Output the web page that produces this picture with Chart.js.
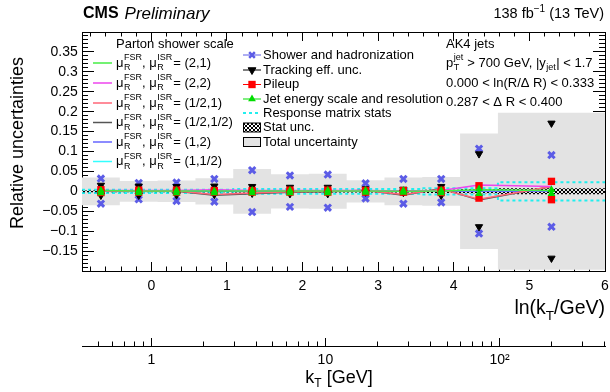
<!DOCTYPE html>
<html>
<head>
<meta charset="utf-8">
<script src="https://cdn.jsdelivr.net/npm/chart.js@4.4.0/dist/chart.umd.min.js"></script>
<style>
  body { margin: 0; background: #fff; }
</style>
</head>
<body>
<canvas id="chart" width="610" height="392"></canvas>
<script>
// bins in ln(kT/GeV)
const binEdges = [-0.916, -0.416, 0.084, 0.584, 1.084, 1.584, 2.084, 2.584, 3.084, 3.584, 4.084, 4.584, 6.0];
const binCenters = [-0.666, -0.166, 0.334, 0.834, 1.334, 1.834, 2.334, 2.834, 3.334, 3.834, 4.334, 5.292];

// uncertainty sources (up / down)
const showerUp   = [0.032, 0.021, 0.022, 0.031, 0.053, 0.040, 0.042, 0.020, 0.031, 0.031, 0.107, 0.091];
const showerDown = [-0.031, -0.020, -0.024, -0.026, -0.052, -0.039, -0.041, -0.018, -0.031, -0.028, -0.106, -0.089];
const trackUp    = [0.015, 0.013, 0.012, 0.013, 0.012, 0.010, 0.010, 0.006, 0.005, 0.012, 0.094, 0.171];
const trackDown  = [-0.010, -0.010, -0.009, -0.008, -0.005, -0.006, -0.006, -0.002, -0.003, -0.010, -0.089, -0.168];
const pileupUp   = [0.004, 0.003, 0.003, 0.002, 0.002, 0.003, 0.003, 0.002, 0.002, 0.003, 0.014, 0.025];
const pileupDown = [-0.003, -0.002, -0.002, -0.002, -0.002, -0.002, -0.002, -0.002, -0.002, -0.003, -0.017, -0.021];
const jesUp      = [0.002, 0.002, 0.002, 0.001, 0.002, 0.002, 0.002, 0.002, 0.002, 0.002, 0.006, 0.004];
const jesDown    = [-0.004, -0.004, -0.004, -0.004, -0.004, -0.004, -0.004, -0.003, -0.003, -0.004, -0.006, -0.006];
const respStat   = [0.004, 0.004, 0.004, 0.004, 0.006, 0.006, 0.006, 0.006, 0.006, 0.008, 0.008, 0.023];
const statUnc    = [0.002, 0.002, 0.002, 0.002, 0.003, 0.003, 0.003, 0.003, 0.003, 0.004, 0.005, 0.0075];
const totalUnc   = [0.035, 0.026, 0.027, 0.033, 0.056, 0.043, 0.044, 0.028, 0.035, 0.036, 0.145, 0.197];

// parton shower scale variations
const psLabels = ['(2,1)', '(2,2)', '(1/2,1)', '(1/2,1/2)', '(1,2)', '(1,1/2)'];
const psColors = ['#44ee44', '#ee44ee', '#ff6677', '#555555', '#6666ff', '#33ffff'];
const ps21 = [0.002, 0.001, 0.001, 0.001, 0.001, 0.001, 0.001, 0.001, 0.000, 0.001, 0.004, 0.002];
const ps22 = [0.002, 0.002, 0.002, 0.004, 0.002, 0.002, 0.002, 0.002, 0.001, 0.002, 0.016, 0.012];
const psH1 = [0.001, 0.000, 0.001, -0.008, -0.004, -0.001, 0.000, 0.002, -0.008, 0.005, -0.020, 0.012];
const psHH = [0.000, 0.000, 0.000, -0.010, -0.006, -0.002, -0.001, 0.003, -0.010, 0.007, -0.022, 0.012];
const ps12 = [0.000, 0.000, 0.000, 0.000, 0.000, 0.000, 0.000, 0.000, 0.000, 0.000, 0.000, 0.000];
const ps1H = [0.000, -0.001, 0.000, 0.000, 0.000, 0.000, 0.000, 0.000, 0.000, 0.000, 0.001, 0.001];
const psValues = [ps21, ps22, psH1, psHH, ps12, ps1H];

// tick labels
const lnTicks = [0, 1, 2, 3, 4, 5, 6];
const kTTicks = [1, 10, 100];
const kTMinorTicks = [0.5, 0.6, 0.7, 0.8, 0.9, 2, 3, 4, 5, 6, 7, 8, 9, 20, 30, 40, 50, 60, 70, 80, 90, 200, 300, 400];
const yTicks = [-0.15, -0.1, -0.05, 0, 0.05, 0.1, 0.15, 0.2, 0.25, 0.3, 0.35];

const X_MIN = -0.916, X_MAX = 6, Y_MIN = -0.2, Y_MAX = 0.4;
const FONT = "'Liberation Sans', Arial, Helvetica, sans-serif";
Chart.defaults.font.family = FONT;
Chart.defaults.color = '#000';

const C_SHOWER = '#5c5ce6', C_PILEUP = '#ff0000', C_JES = '#00dd00', C_RESP = '#22eeee', C_TOTAL = '#e3e3e3';

function minorSteps(lo, hi, step) {
    const out = [];
    for (let k = Math.ceil(lo / step - 1e-9); k * step <= hi + 1e-9; k++) out.push(+(k * step).toFixed(4));
    return out;
}

function hatchPattern() {
    const c = document.createElement('canvas');
    c.width = 4; c.height = 4;
    const g = c.getContext('2d');
    g.strokeStyle = '#000';
    g.lineWidth = 1;
    g.beginPath();
    g.moveTo(0, 4); g.lineTo(4, 0);
    g.moveTo(0, 0); g.lineTo(4, 4);
    g.stroke();
    return g.createPattern(c, 'repeat');
}
const HATCH = hatchPattern();

const neg = a => a.map(v => -v);
const pts = (ys) => binCenters.map((x, i) => ({ x: x, y: ys[i] }));
const steps = (vals) => binEdges.map((e, i) => ({ x: e, y: vals[Math.min(i, vals.length - 1)] }));

const setTicks = vals => s => { s.ticks = vals.map(v => ({ value: v })); };

// fixed box size, no extra label padding so the frame lands where the reference has it
function fixSize(horiz, size) {
    return s => {
        if (horiz) s.height = size; else s.width = size;
        s.paddingLeft = 0; s.paddingRight = 0; s.paddingTop = 0; s.paddingBottom = 0;
    };
}

function tickAxis(pos, opts) {
    const horiz = pos === 'top' || pos === 'bottom';
    return Object.assign({
        axis: horiz ? 'x' : 'y',
        type: 'linear',
        position: pos,
        bounds: 'data',
        min: horiz ? X_MIN : Y_MIN,
        max: horiz ? X_MAX : Y_MAX,
        z: 1,
        grid: { drawOnChartArea: false, drawTicks: true, tickLength: opts.len, color: '#000', lineWidth: 1 },
        border: { display: !!opts.border, color: '#000', width: 1 },
        ticks: { display: false },
        afterBuildTicks: setTicks(opts.ticks),
        afterFit: fixSize(horiz, opts.size || 0)
    }, opts.extra || {});
}

function fmtY(v) {
    if (Math.abs(v) < 1e-9) return '0';
    return String(parseFloat(v.toFixed(2))).replace('-', '\u2212');
}

const xMinor = minorSteps(-0.8, 6, 0.2);
const yMinor = minorSteps(-0.2, 0.4, 0.01);

const scales = {
    xMinor: tickAxis('bottom', { len: -4.5, ticks: xMinor, extra: { weight: 0 } }),
    x: tickAxis('bottom', {
        len: -9, ticks: lnTicks, border: true, size: 75,
        extra: { weight: 1, ticks: { display: true, padding: 15.5, font: { size: 14 }, color: '#000', maxRotation: 0, autoSkip: false, callback: v => String(v) } }
    }),
    kTMinor: {
        axis: 'x', type: 'logarithmic', position: 'bottom', weight: 2, bounds: 'data', z: 1,
        min: 0.4, max: 403.43,
        grid: { drawOnChartArea: false, drawTicks: true, tickLength: -4.5, color: '#000' },
        border: { display: false },
        ticks: { display: false },
        afterBuildTicks: setTicks(kTMinorTicks),
        afterFit: fixSize(true, 0)
    },
    kT: {
        axis: 'x', type: 'logarithmic', position: 'bottom', weight: 3, bounds: 'data', z: 1,
        min: 0.4, max: 403.43,
        grid: { drawOnChartArea: false, drawTicks: true, tickLength: -8, color: '#000' },
        border: { display: true, color: '#000', width: 1 },
        ticks: { display: true, padding: 14, font: { size: 14 }, color: '#000', maxRotation: 0, autoSkip: false,
                 callback: v => (v === 100 ? '10\u00B2' : String(v)) },
        afterBuildTicks: setTicks(kTTicks),
        afterFit: fixSize(true, 46)
    },
    xTopMinor: tickAxis('top', { len: -4.5, ticks: xMinor, extra: { weight: 0 } }),
    xTop: tickAxis('top', { len: -9, ticks: lnTicks, border: true, extra: { weight: 1 } }),
    yMinor: tickAxis('left', { len: -6, ticks: yMinor, extra: { weight: 0 } }),
    y: tickAxis('left', {
        len: -12, ticks: yTicks, border: true, size: 82,
        extra: { weight: 1, ticks: { display: true, padding: 16.3, font: { size: 14 }, color: '#000', callback: v => fmtY(v) } }
    }),
    yRightMinor: tickAxis('right', { len: -6, ticks: yMinor, extra: { weight: 0 } }),
    yRight: tickAxis('right', { len: -12, ticks: yTicks, border: true, extra: { weight: 1 } })
};

const base = { xAxisID: 'x', yAxisID: 'y', pointRadius: 0, pointHoverRadius: 0, tension: 0 };
const datasets = [];

// total uncertainty band (each bin value held from its low edge to the next edge)
datasets.push(Object.assign({}, base, { data: steps(totalUnc), stepped: 'before', borderWidth: 0, fill: '+1', backgroundColor: C_TOTAL, order: 10 }));
datasets.push(Object.assign({}, base, { data: steps(neg(totalUnc)), stepped: 'before', borderWidth: 0, fill: false, order: 10 }));
// response matrix stats
datasets.push(Object.assign({}, base, { data: steps(respStat), stepped: 'before', borderColor: C_RESP, borderWidth: 2, borderDash: [3, 3], fill: false, order: 8 }));
datasets.push(Object.assign({}, base, { data: steps(neg(respStat)), stepped: 'before', borderColor: C_RESP, borderWidth: 2, borderDash: [3, 3], fill: false, order: 8 }));
// stat unc
datasets.push(Object.assign({}, base, { data: steps(statUnc), stepped: 'before', borderWidth: 0, fill: '+1', backgroundColor: HATCH, order: 7 }));
datasets.push(Object.assign({}, base, { data: steps(neg(statUnc)), stepped: 'before', borderWidth: 0, fill: false, order: 7 }));
// parton shower variations
psValues.forEach((vals, i) => {
    datasets.push(Object.assign({}, base, { data: pts(vals), borderColor: psColors[i], borderWidth: 1.5, fill: false, order: 6 }));
});
// markers
function markers(up, down, style) {
    return Object.assign({}, base, { data: pts(up).concat(pts(down)), showLine: false, fill: false }, style);
}
datasets.push(markers(showerUp, showerDown, { pointStyle: 'crossRot', pointRadius: 4.5, pointBorderWidth: 3, pointBorderColor: C_SHOWER, pointBackgroundColor: C_SHOWER, order: 4 }));
datasets.push(markers(trackUp, trackDown, { pointStyle: 'triangle', pointRotation: 180, pointRadius: 4.2, pointBorderWidth: 1, pointBorderColor: '#000', pointBackgroundColor: '#000', order: 3 }));
datasets.push(markers(pileupUp, pileupDown, { pointStyle: 'rect', pointRadius: 5.2, pointBorderWidth: 0, pointBorderColor: C_PILEUP, pointBackgroundColor: C_PILEUP, order: 2 }));
datasets.push(markers(jesUp, jesDown, { pointStyle: 'triangle', pointRadius: 4.5, pointBorderWidth: 0, pointBorderColor: C_JES, pointBackgroundColor: C_JES, order: 1 }));

// ---- texts & legends ----
function put(ctx, s, x, y, size, style) {
    ctx.font = (style ? style + ' ' : '') + size + 'px ' + FONT;
    ctx.fillText(s, x, y);
    return ctx.measureText(s).width;
}
function width(ctx, s, size, style) {
    ctx.font = (style ? style + ' ' : '') + size + 'px ' + FONT;
    return ctx.measureText(s).width;
}
function supSub(ctx, x, y, sup, sub, size) {
    const a = sup ? put(ctx, sup, x, y - 5, size) : 0;
    const b = sub ? put(ctx, sub, x, y + 5, size) : 0;
    return Math.max(a, b);
}
function muLabel(ctx, x, y, rest) {
    let cx = x;
    cx += put(ctx, '\u03BC', cx, y, 13);
    cx += supSub(ctx, cx + 0.5, y, 'FSR', 'R', 9) + 0.5;
    cx += put(ctx, ', \u03BC', cx, y, 13);
    cx += supSub(ctx, cx + 0.5, y, 'ISR', 'R', 9) + 1.5;
    put(ctx, '= ' + rest, cx, y, 13);
}

const textPlugin = {
    id: 'texts',
    afterDraw(chart) {
        const ctx = chart.ctx;
        const dp = Chart.helpers.drawPoint;
        ctx.save();
        ctx.fillStyle = '#000';
        ctx.textBaseline = 'middle';
        ctx.textAlign = 'left';

        // header
        const w = put(ctx, 'CMS', 83, 14, 16, 'bold');
        put(ctx, 'Preliminary', 83 + w + 6, 14, 17, 'italic');
        const a = width(ctx, '138 fb', 14.5), b = width(ctx, '\u22121', 10), c = width(ctx, ' (13 TeV)', 14.5);
        let hx = 604 - (a + b + c);
        put(ctx, '138 fb', hx, 14, 14.5); hx += a;
        put(ctx, '\u22121', hx, 9, 10); hx += b;
        put(ctx, ' (13 TeV)', hx, 14, 14.5);

        // axis titles
        ctx.save();
        ctx.translate(18, 143);
        ctx.rotate(-Math.PI / 2);
        ctx.textAlign = 'center';
        put(ctx, 'Relative uncertainties', 0, 0, 18);
        ctx.restore();

        const l1 = width(ctx, 'ln(k', 19.5), l2 = width(ctx, 'T', 13.5), l3 = width(ctx, '/GeV)', 19.5);
        let lx = 605 - (l1 + l2 + l3);
        put(ctx, 'ln(k', lx, 309, 19.5); lx += l1;
        put(ctx, 'T', lx, 316, 13.5); lx += l2;
        put(ctx, '/GeV)', lx, 309, 19.5);

        const k1 = width(ctx, 'k', 18), k2 = width(ctx, 'T', 12), k3 = width(ctx, ' [GeV]', 18);
        let kx = 339 - (k1 + k2 + k3) / 2;
        put(ctx, 'k', kx, 378, 18); kx += k1;
        put(ctx, 'T', kx, 384, 12); kx += k2;
        put(ctx, ' [GeV]', kx, 378, 18);

        // parton shower legend
        put(ctx, 'Parton shower scale', 116, 44, 13);
        const psRows = [63, 83, 103, 122.5, 142, 161.5];
        psLabels.forEach((lab, i) => {
            ctx.strokeStyle = psColors[i];
            ctx.lineWidth = 1.5;
            ctx.beginPath(); ctx.moveTo(93, psRows[i]); ctx.lineTo(112, psRows[i]); ctx.stroke();
            muLabel(ctx, 116, psRows[i], lab);
        });

        // sources legend
        const rows = [55, 70, 84.5, 99, 113, 127.5, 142];
        const mk = [
            ['Shower and hadronization', C_SHOWER, { pointStyle: 'crossRot', radius: 4, borderWidth: 2.5 }],
            ['Tracking eff. unc.', '#000', { pointStyle: 'triangle', rotation: 180, radius: 4.5, borderWidth: 1 }],
            ['Pileup', C_PILEUP, { pointStyle: 'rect', radius: 5.2, borderWidth: 0 }],
            ['Jet energy scale and resolution', C_JES, { pointStyle: 'triangle', rotation: 0, radius: 4.5, borderWidth: 0 }]
        ];
        mk.forEach((m, i) => {
            ctx.strokeStyle = m[1]; ctx.fillStyle = m[1]; ctx.lineWidth = 1;
            ctx.beginPath(); ctx.moveTo(243, rows[i]); ctx.lineTo(261, rows[i]); ctx.stroke();
            ctx.lineWidth = m[2].borderWidth || 1;
            dp(ctx, m[2], 252, rows[i]);
            ctx.fillStyle = '#000';
            put(ctx, m[0], 263, rows[i], 13);
        });
        ctx.strokeStyle = C_RESP; ctx.lineWidth = 2; ctx.setLineDash([3, 3]);
        ctx.beginPath(); ctx.moveTo(243, rows[4]); ctx.lineTo(261, rows[4]); ctx.stroke();
        ctx.setLineDash([]);
        put(ctx, 'Response matrix stats', 263, rows[4], 13);
        ctx.lineWidth = 1; ctx.strokeStyle = '#000';
        ctx.fillStyle = HATCH; ctx.fillRect(243.5, rows[5] - 4.5, 17, 9); ctx.strokeRect(243.5, rows[5] - 4.5, 17, 9);
        ctx.fillStyle = C_TOTAL; ctx.fillRect(243.5, rows[6] - 4.5, 17, 9); ctx.strokeRect(243.5, rows[6] - 4.5, 17, 9);
        ctx.fillStyle = '#000';
        put(ctx, 'Stat unc.', 263, rows[5], 13);
        put(ctx, 'Total uncertainty', 263, rows[6], 13);

        // selection text
        put(ctx, 'AK4 jets', 446, 44, 13);
        let px = 446;
        px += put(ctx, 'p', px, 63, 13);
        px += supSub(ctx, px + 0.5, 63, 'jet', 'T', 9) + 1;
        px += put(ctx, ' > 700 GeV, |y', px, 63, 13);
        px += supSub(ctx, px + 0.5, 63, null, 'jet', 9) + 1;
        put(ctx, '| < 1.7', px, 63, 13);
        put(ctx, '0.000 < ln(R/\u0394 R) < 0.333', 446, 83, 13);
        put(ctx, '0.287 < \u0394 R < 0.400', 446, 102, 13);

        ctx.restore();
    }
};

new Chart(document.getElementById('chart').getContext('2d'), {
    type: 'line',
    data: { datasets: datasets },
    options: {
        responsive: false,
        devicePixelRatio: 1,
        animation: false,
        layout: { autoPadding: false, padding: { top: 32, right: 5, left: 0, bottom: 0 } },
        plugins: { legend: { display: false }, tooltip: { enabled: false }, title: { display: false } },
        scales: scales
    },
    plugins: [textPlugin]
});
</script>
</body>
</html>
